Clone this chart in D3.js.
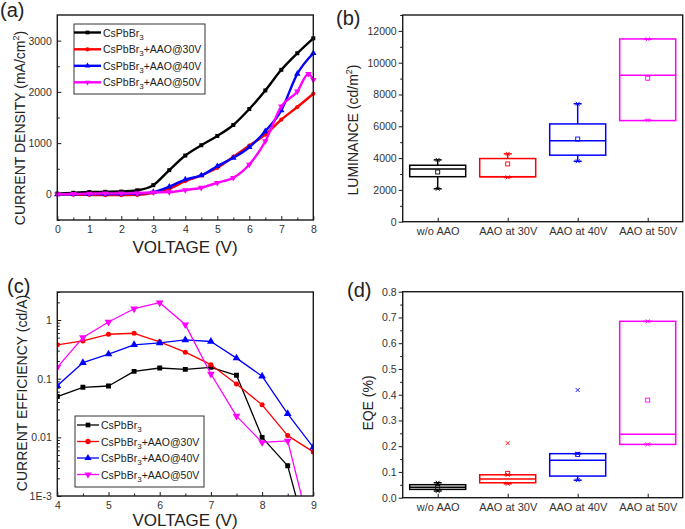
<!DOCTYPE html>
<html><head><meta charset="utf-8">
<script src="https://cdn.jsdelivr.net/npm/d3@7"></script>
<style>body{margin:0;background:#fff}svg{display:block;font-family:"Liberation Sans",Arial,sans-serif}</style>
</head><body><svg id="c" width="685" height="529"></svg>
<script>
// ---------- DATA ----------
const seriesColors = ["#000000", "#ff0000", "#0000ff", "#ff00ff"];
const seriesSuffix = ["", "+AAO@30V", "+AAO@40V", "+AAO@50V"];

// (a) current density vs voltage
const voltA = [0, 0.5, 1, 1.5, 2, 2.5, 3, 3.5, 4, 4.5, 5, 5.5, 6, 6.5, 7, 7.5, 8];
const voltA50 = [0, 0.5, 1, 1.5, 2, 2.5, 3, 3.5, 4, 4.5, 5, 5.5, 6, 6.5, 7, 7.5, 7.85, 8];
const jdPure = [15, 30, 45, 50, 55, 80, 180, 473, 758, 959, 1140, 1354, 1665, 2028, 2430, 2754, 3046];
const jd30 = [0, -5, -10, -15, -15, -10, 30, 110, 259, 370, 518, 732, 952, 1166, 1458, 1704, 1963];
const jd40 = [0, 5, 5, 5, 10, 15, 45, 150, 290, 370, 550, 713, 920, 1231, 1640, 2352, 2754];
const jd50 = [0, 10, 15, 20, 20, 25, 40, 45, 84, 130, 227, 324, 583, 1037, 1717, 2009, 2352, 2235];
const jdTicks = [0, 1000, 2000, 3000];

// (b) luminance box plot
const boxCategories = ["w/o AAO", "AAO at 30V", "AAO at 40V", "AAO at 50V"];
const lumQ1 = [2830, 2830, 4184, 6360];
const lumMedian = [3317, 2830, 5092, 9213];
const lumQ3 = [3550, 3972, 6149, 11495];
const lumWhiskLo = [2070, 2789, 3803, 6381];
const lumWhiskHi = [3888, 4268, 7417, 11473];
const lumMean = [3127, 3634, 5198, 9022];
const lumTicks = [0, 2000, 4000, 6000, 8000, 10000, 12000];

// (c) current efficiency vs voltage
const voltC = [4, 4.5, 5, 5.5, 6, 6.5, 7, 7.5, 8, 8.5, 9];
const cePure = [0.0496, 0.0713, 0.075, 0.133, 0.152, 0.144, 0.156, 0.114, 0.0100, 0.00327, 0.00008];
const ce30 = [0.377, 0.44, 0.571, 0.594, 0.424, 0.283, 0.173, 0.081, 0.0358, 0.0107, 0.00564];
const ce40 = [0.076, 0.187, 0.262, 0.377, 0.407, 0.458, 0.43, 0.224, 0.11, 0.0252, 0.00677];
const ce50 = [0.156, 0.502, 0.925, 1.556, 1.97, 0.834, 0.12, 0.023, 0.0082, 0.0087, 0.00016];
const ceTicks = [0.001, 0.01, 0.1, 1];
const ceTickLabels = ["1E-3", "0.01", "0.1", "1"];

// (d) EQE box plot
const eqeQ1 = [0.0324, 0.058, 0.084, 0.207];
const eqeMedian = [0.041, 0.0725, 0.145, 0.246];
const eqeQ3 = [0.0505, 0.089, 0.171, 0.685];
const eqeWhiskLo = [0.026, 0.054, 0.068, 0.207];
const eqeWhiskHi = [0.058, 0.089, 0.171, 0.685];
const eqeMean = [0.040, 0.0945, 0.168, 0.379];
const eqeOutlier = [null, 0.212, 0.418, null];
const eqeTicks = [0, 0.1, 0.2, 0.3, 0.4, 0.5, 0.6, 0.7, 0.8];

// ---------- DRAW ----------
const svg = d3.select("#c");
const frameColor = "#1a1a1a", labelColor = "#333";
const symbolTypes = [d3.symbolSquare, d3.symbolCircle, d3.symbolTriangle, d3.symbolTriangle];
const symbolRot = [0, 0, 0, 180];

function styleAxis(g, fs) {
  g.select(".domain").remove();
  g.selectAll(".tick line").attr("stroke", frameColor).attr("stroke-width", 1);
  g.selectAll(".tick text").attr("fill", labelColor).attr("font-size", fs)
    .attr("font-family", '"Liberation Sans",Arial,sans-serif');
}
function frame(b) {
  svg.append("rect").attr("x", b.l).attr("y", b.t).attr("width", b.r - b.l).attr("height", b.b - b.t)
    .attr("fill", "none").attr("stroke", frameColor).attr("stroke-width", 1.4);
}
function panelLabel(t, x, y) {
  svg.append("text").attr("x", x).attr("y", y).attr("font-size", 20).attr("fill", "#222").text(t);
}
function yTitle(x, y, parts) {
  const t = svg.append("text").attr("transform", `translate(${x},${y}) rotate(-90)`)
    .attr("text-anchor", "middle").attr("font-size", 14).attr("fill", "#222");
  parts.forEach(p => {
    const s = t.append("tspan").text(p.t);
    if (p.sup) s.attr("font-size", 9).attr("dy", -6);
    if (p.after) s.attr("dy", 6);
  });
}
function xTitle(x, y, txt) {
  svg.append("text").attr("x", x).attr("y", y).attr("text-anchor", "middle")
    .attr("font-size", 17).attr("fill", "#222").text(txt);
}
function legend(b, rowsY, lineX0, lineX1, lw, msize) {
  svg.append("rect").attr("x", b.x).attr("y", b.y).attr("width", b.w).attr("height", b.h)
    .attr("fill", "#fff").attr("stroke", "#333").attr("stroke-width", 1);
  rowsY.forEach((yy, i) => {
    svg.append("line").attr("x1", lineX0).attr("x2", lineX1).attr("y1", yy).attr("y2", yy)
      .attr("stroke", seriesColors[i]).attr("stroke-width", lw);
    svg.append("path").attr("d", d3.symbol(symbolTypes[i], msize)())
      .attr("transform", `translate(${(lineX0 + lineX1) / 2},${yy}) rotate(${symbolRot[i]})`)
      .attr("fill", seriesColors[i]);
    const t = svg.append("text").attr("x", lineX1 + 2).attr("y", yy + 4).attr("font-size", 10.5).attr("fill", "#222");
    t.append("tspan").text("CsPbBr");
    t.append("tspan").text("3").attr("font-size", 8).attr("dy", 3);
    if (seriesSuffix[i]) t.append("tspan").text(seriesSuffix[i]).attr("dy", -3);
  });
}
function drawSeries(x, y, xs, ys, color, i, lw, msize, curve, clipId) {
  const pts = xs.map((v, k) => [v, ys[k]]);
  const g = svg.append("g");
  if (clipId) g.attr("clip-path", `url(#${clipId})`);
  g.append("path").datum(pts)
    .attr("d", d3.line().x(d => x(d[0])).y(d => y(d[1])).curve(curve))
    .attr("fill", "none").attr("stroke", color).attr("stroke-width", lw).attr("stroke-linejoin", "round");
  g.selectAll(null).data(pts).enter().append("path")
    .attr("d", d3.symbol(symbolTypes[i], msize)())
    .attr("transform", d => `translate(${x(d[0])},${y(d[1])}) rotate(${symbolRot[i]})`)
    .attr("fill", color);
}

// ===== Panel (a) =====
{
  const b = { l: 57.3, r: 313.3, t: 15, b: 220 };
  const x = d3.scaleLinear([0, 8], [b.l, b.r]);
  const y = d3.scaleLinear([-500, 3500], [b.b, b.t]);
  svg.append("g").attr("transform", `translate(0,${b.b})`)
    .call(d3.axisBottom(x).tickValues(d3.range(0, 8.5, 0.5).filter(v => v % 1)).tickSize(-2.5).tickFormat(""))
    .call(g => styleAxis(g, 10.5));
  svg.append("g").attr("transform", `translate(0,${b.b})`)
    .call(d3.axisBottom(x).tickValues(d3.range(0, 9, 1)).tickSize(-4).tickPadding(5.5).tickFormat(d3.format("d")))
    .call(g => styleAxis(g, 10.5));
  svg.append("g").attr("transform", `translate(${b.l},0)`)
    .call(d3.axisLeft(y).tickValues([-500, 500, 1500, 2500]).tickSize(-2.5).tickFormat(""))
    .call(g => styleAxis(g, 10.5));
  svg.append("g").attr("transform", `translate(${b.l},0)`)
    .call(d3.axisLeft(y).tickValues(jdTicks).tickSize(-4).tickPadding(5.5).tickFormat(d3.format("d")))
    .call(g => styleAxis(g, 10.5));
  const curve = d3.curveMonotoneX;
  drawSeries(x, y, voltA, jd30, seriesColors[1], 1, 2.4, 14, curve);
  drawSeries(x, y, voltA, jd40, seriesColors[2], 2, 2.4, 18, curve);
  drawSeries(x, y, voltA, jdPure, seriesColors[0], 0, 2.4, 16, curve);
  drawSeries(x, y, voltA50, jd50, seriesColors[3], 3, 2.4, 18, curve);
  frame(b);
  legend({ x: 74, y: 24, w: 131, h: 70 }, [32.5, 49.3, 65.8, 82.3], 74, 101, 2.4, 14);
  panelLabel("(a)", 0, 17);
  xTitle(185, 253, "VOLTAGE (V)");
  yTitle(25, 128, [{ t: "CURRENT DENSITY (mA/cm" }, { t: "2", sup: true }, { t: ")", after: true }]);
}

// Box plot helper
function boxPanel(b, yDomain, q1, med, q3, wlo, whi, mean, outl, ticks, minorTicks, fmt) {
  const x = d3.scalePoint(boxCategories, [b.l, b.r]).padding(0.5);
  const y = d3.scaleLinear(yDomain, [b.b, b.t]);
  svg.append("g").attr("transform", `translate(${b.l},0)`)
    .call(d3.axisLeft(y).tickValues(minorTicks).tickSize(2.5).tickFormat(""))
    .call(g => styleAxis(g, 10.5));
  svg.append("g").attr("transform", `translate(${b.l},0)`)
    .call(d3.axisLeft(y).tickValues(ticks).tickSize(4).tickPadding(2).tickFormat(fmt))
    .call(g => styleAxis(g, 10.5));
  svg.append("g").attr("transform", `translate(0,${b.b})`)
    .call(d3.axisBottom(x).tickSize(-4).tickPadding(6))
    .call(g => styleAxis(g, 11));
  const bw = x.step() * 0.8, cw = 8;
  boxCategories.forEach((c, i) => {
    const cx = x(c), col = seriesColors[i];
    const g = svg.append("g").attr("stroke", col).attr("fill", "none").attr("stroke-width", 1.5);
    g.append("line").attr("x1", cx).attr("x2", cx).attr("y1", y(q3[i])).attr("y2", y(whi[i]));
    g.append("line").attr("x1", cx).attr("x2", cx).attr("y1", y(q1[i])).attr("y2", y(wlo[i]));
    g.append("line").attr("x1", cx - cw / 2).attr("x2", cx + cw / 2).attr("y1", y(whi[i])).attr("y2", y(whi[i]));
    g.append("line").attr("x1", cx - cw / 2).attr("x2", cx + cw / 2).attr("y1", y(wlo[i])).attr("y2", y(wlo[i]));
    g.append("rect").attr("x", cx - bw / 2).attr("width", bw)
      .attr("y", y(q3[i])).attr("height", y(q1[i]) - y(q3[i]));
    g.append("line").attr("x1", cx - bw / 2).attr("x2", cx + bw / 2).attr("y1", y(med[i])).attr("y2", y(med[i]));
    const m = svg.append("g").attr("stroke", col).attr("fill", "none").attr("stroke-width", 0.9);
    m.append("rect").attr("x", cx - 2).attr("y", y(mean[i]) - 2).attr("width", 4).attr("height", 4);
    const xs = [whi[i], wlo[i]];
    if (outl && outl[i] != null) xs.push(outl[i]);
    xs.forEach(v => {
      const yy = y(v);
      m.append("path").attr("d", `M${cx - 2},${yy - 2}L${cx + 2},${yy + 2}M${cx - 2},${yy + 2}L${cx + 2},${yy - 2}`);
    });
  });
  frame(b);
}

// ===== Panel (b) =====
{
  const b = { l: 402.7, r: 682.7, t: 15, b: 221.7 };
  boxPanel(b, [0, 13000], lumQ1, lumMedian, lumQ3, lumWhiskLo, lumWhiskHi, lumMean, null,
    lumTicks, [1000, 3000, 5000, 7000, 9000, 11000, 13000], d3.format("d"));
  panelLabel("(b)", 336, 25);
  yTitle(358, 130, [{ t: "LUMINANCE (cd/m" }, { t: "2", sup: true }, { t: ")", after: true }]);
}

// ===== Panel (c) =====
{
  const b = { l: 57.3, r: 313.3, t: 292, b: 496 };
  const x = d3.scaleLinear([4, 9], [b.l, b.r]);
  const y = d3.scaleLog([0.001, 3], [b.b, b.t]);
  svg.append("defs").append("clipPath").attr("id", "clipC").append("rect")
    .attr("x", b.l).attr("y", b.t).attr("width", b.r - b.l).attr("height", b.b - b.t);
  svg.append("g").attr("transform", `translate(0,${b.b})`)
    .call(d3.axisBottom(x).tickValues([4.5, 5.5, 6.5, 7.5, 8.5]).tickSize(-2.5).tickFormat(""))
    .call(g => styleAxis(g, 10.5));
  svg.append("g").attr("transform", `translate(0,${b.b})`)
    .call(d3.axisBottom(x).tickValues([4, 5, 6, 7, 8, 9]).tickSize(-4).tickPadding(5.5).tickFormat(d3.format("d")))
    .call(g => styleAxis(g, 10.5));
  const minor = [];
  [0.001, 0.01, 0.1, 1].forEach(d => { for (let k = 2; k <= 9; k++) if (d * k <= 3) minor.push(d * k); });
  svg.append("g").attr("transform", `translate(${b.l},0)`)
    .call(d3.axisLeft(y).tickValues(minor).tickSize(-2.5).tickFormat(""))
    .call(g => styleAxis(g, 10.5));
  svg.append("g").attr("transform", `translate(${b.l},0)`)
    .call(d3.axisLeft(y).tickValues(ceTicks).tickSize(-4).tickPadding(5.5).tickFormat((d, i) => ceTickLabels[i]))
    .call(g => styleAxis(g, 10.5));
  const curve = d3.curveLinear;
  drawSeries(x, y, voltC, cePure, seriesColors[0], 0, 1.3, 24, curve, "clipC");
  drawSeries(x, y, voltC, ce30, seriesColors[1], 1, 1.3, 20, curve, "clipC");
  drawSeries(x, y, voltC, ce40, seriesColors[2], 2, 1.3, 26, curve, "clipC");
  drawSeries(x, y, voltC, ce50, seriesColors[3], 3, 1.3, 26, curve, "clipC");
  frame(b);
  legend({ x: 75, y: 416, w: 129, h: 71 }, [425, 441.5, 458, 474.5], 77, 99, 1.3, 22);
  panelLabel("(c)", 7, 293);
  xTitle(185, 526, "VOLTAGE (V)");
  yTitle(27, 393, [{ t: "CURRENT EFFICIENCY (cd/A)" }]);
}

// ===== Panel (d) =====
{
  const b = { l: 402.7, r: 682.7, t: 291.7, b: 497.7 };
  boxPanel(b, [0, 0.8], eqeQ1, eqeMedian, eqeQ3, eqeWhiskLo, eqeWhiskHi, eqeMean, eqeOutlier,
    eqeTicks, [0.05, 0.15, 0.25, 0.35, 0.45, 0.55, 0.65, 0.75], d3.format(".1f"));
  panelLabel("(d)", 347, 297);
  yTitle(373, 403, [{ t: "EQE (%)" }]);
}
</script></body></html>
